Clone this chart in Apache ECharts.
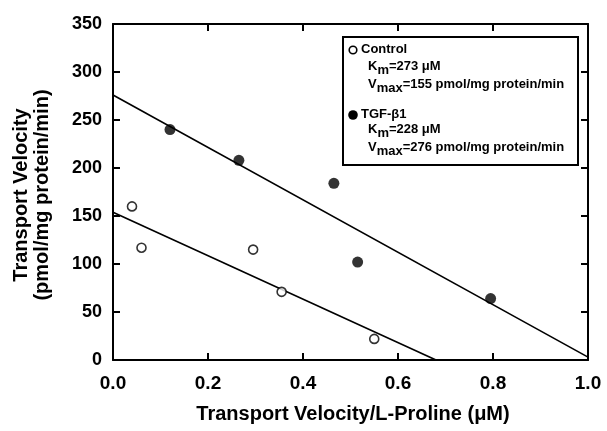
<!DOCTYPE html>
<html>
<head>
<meta charset="utf-8">
<script src="https://cdn.jsdelivr.net/npm/echarts@6/dist/echarts.min.js"></script>
<style>
html,body{margin:0;padding:0;background:#fff;}
#chart{width:607px;height:431px;}
</style>
</head>
<body>
<div id="chart"></div>
<script>
// Data
const controlPoints = [[0.04, 160], [0.06, 117], [0.295, 115], [0.355, 71], [0.55, 22]];
const tgfPoints = [[0.12, 240], [0.265, 208], [0.465, 184], [0.515, 102], [0.795, 64]];
const controlFit = [[0, 154], [0.68, 0]];
const tgfFit = [[0, 276], [1.0, 3]];
const xTicks = [0, 0.2, 0.4, 0.6, 0.8, 1.0];
const yTicks = [0, 50, 100, 150, 200, 250, 300, 350];

const FONT = '"Liberation Sans", Arial, sans-serif';
const chart = echarts.init(document.getElementById('chart'));

const axisCommon = {
  axisLine: { show: true, onZero: false, lineStyle: { color: '#000', width: 2 } },
  axisTick: { show: true, inside: true, length: 7, lineStyle: { color: '#000', width: 2 } },
  splitLine: { show: false }
};

const legendRich = {
  b: { fontFamily: FONT, fontWeight: 'bold', fontSize: 13, color: '#000' },
  s: { fontFamily: FONT, fontWeight: 'bold', fontSize: 13, color: '#000', padding: [8, 0, 0, 0] }
};

function legendText(x, y, text) {
  return { type: 'text', left: x, top: y, z: 11, style: { text: text, rich: legendRich, fontFamily: FONT } };
}

chart.setOption({
  animation: false,
  backgroundColor: '#fff',
  grid: { left: 113, top: 24, width: 475, height: 336, containLabel: false },
  xAxis: [
    Object.assign({}, axisCommon, {
      type: 'value', min: 0, max: 1, interval: 0.2, position: 'bottom',
      axisLabel: { show: true, margin: 14, fontFamily: FONT, fontWeight: 'bold', fontSize: 19, color: '#000',
        formatter: v => v.toFixed(1) }
    }),
    Object.assign({}, axisCommon, {
      type: 'value', min: 0, max: 1, interval: 0.2, position: 'top',
      axisLabel: { show: false }
    })
  ],
  yAxis: [
    Object.assign({}, axisCommon, {
      type: 'value', min: 0, max: 350, interval: 50, position: 'left',
      axisLabel: { show: true, margin: 11, fontFamily: FONT, fontWeight: 'bold', fontSize: 18, color: '#000' }
    }),
    Object.assign({}, axisCommon, {
      type: 'value', min: 0, max: 350, interval: 50, position: 'right',
      axisLabel: { show: false }
    })
  ],
  series: [
    { type: 'line', data: controlFit, symbol: 'none', lineStyle: { color: '#000', width: 1.6 }, z: 2 },
    { type: 'line', data: tgfFit, symbol: 'none', lineStyle: { color: '#000', width: 1.6 }, z: 2 },
    { type: 'scatter', data: controlPoints, symbol: 'circle', symbolSize: 9,
      itemStyle: { color: '#fff', borderColor: '#000', borderWidth: 1.6 }, z: 3 },
    { type: 'scatter', data: tgfPoints, symbol: 'circle', symbolSize: 11,
      itemStyle: { color: '#000', borderColor: '#000', borderWidth: 0 }, z: 3 }
  ],
  graphic: [
    { type: 'rect', shape: { x: 343, y: 37, width: 235, height: 128 },
      style: { fill: '#fff', stroke: '#000', lineWidth: 2 }, z: 10 },
    { type: 'circle', shape: { cx: 353, cy: 50, r: 3.8 }, style: { fill: '#fff', stroke: '#000', lineWidth: 1.6 }, z: 11 },
    { type: 'circle', shape: { cx: 353, cy: 115, r: 4.8 }, style: { fill: '#000' }, z: 11 },
    legendText(361, 43, '{b|Control}'),
    legendText(368, 60, '{b|K}{s|m}{b|=273 μM}'),
    legendText(368, 78, '{b|V}{s|max}{b|=155 pmol/mg protein/min}'),
    legendText(361, 108, '{b|TGF-β1}'),
    legendText(368, 123, '{b|K}{s|m}{b|=228 μM}'),
    legendText(368, 141, '{b|V}{s|max}{b|=276 pmol/mg protein/min}'),
    { type: 'text', x: 32, y: 195, rotation: Math.PI / 2,
      style: { text: 'Transport Velocity\n(pmol/mg protein/min)', fontFamily: FONT, fontWeight: 'bold',
        fontSize: 20, lineHeight: 21, fill: '#000', align: 'center', verticalAlign: 'middle' } },
    { type: 'text', x: 353, y: 414,
      style: { text: 'Transport Velocity/L-Proline (μM)', fontFamily: FONT, fontWeight: 'bold',
        fontSize: 20, fill: '#000', align: 'center', verticalAlign: 'middle' } }
  ]
});
</script>
</body>
</html>
